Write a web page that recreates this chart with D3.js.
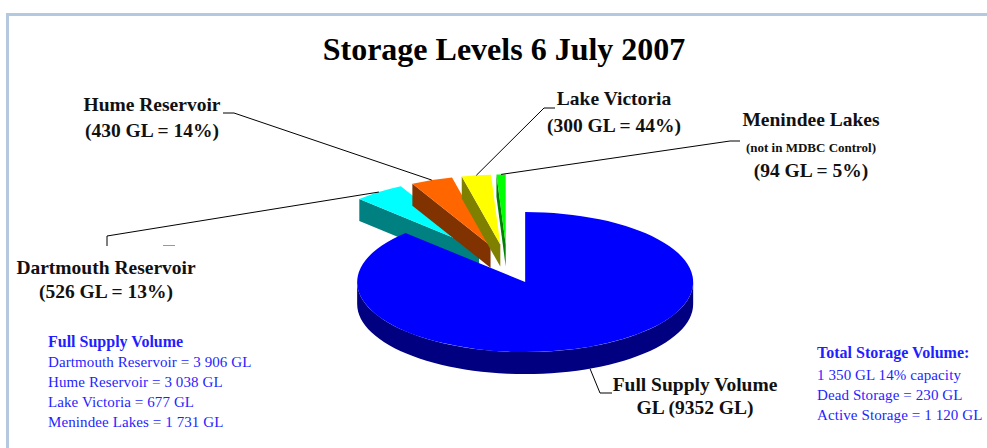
<!DOCTYPE html>
<html>
<head>
<meta charset="utf-8">
<script src="https://cdn.jsdelivr.net/npm/d3@7"></script>
<style>
  body { margin: 0; background: #fff; }
  svg { display: block; }
  text { font-family: "Liberation Serif", "Times New Roman", serif; }
</style>
</head>
<body>
<svg id="chart"></svg>
<script>
document.addEventListener("DOMContentLoaded", function () {
    const width = 987;
    const height = 448;

    // pie slices, clockwise from 12 o'clock
    const sliceNames = ["Full Supply Volume", "Dartmouth Reservoir", "Hume Reservoir", "Lake Victoria", "Menindee Lakes"];
    const sliceValues = [9352, 526, 430, 300, 94];
    const topColors = ["#0000ff", "#00ffff", "#ff6600", "#ffff00", "#00ff00"];
    const sideColors = ["#000080", "#008080", "#803300", "#808000", "#008000"];

    // slice labels (one array of lines per slice)
    const sliceLabels = [
        ["Full Supply Volume", "GL (9352 GL)"],
        ["Dartmouth Reservoir", "(526 GL = 13%)"],
        ["Hume Reservoir", "(430 GL = 14%)"],
        ["Lake Victoria", "(300 GL = 44%)"],
        ["Menindee Lakes", "(not in MDBC Control)", "(94 GL = 5%)"]
    ];

    const fullSupplyTitle = "Full Supply Volume";
    const fullSupplyLines = [
        "Dartmouth Reservoir = 3 906 GL",
        "Hume Reservoir = 3 038 GL",
        "Lake Victoria = 677 GL",
        "Menindee Lakes = 1 731 GL"
    ];
    const totalTitle = "Total Storage Volume:";
    const totalLines = [
        "1 350 GL 14% capacity",
        "Dead Storage = 230 GL",
        "Active Storage = 1 120 GL"
    ];

    const svg = d3.select("#chart")
        .attr("width", width)
        .attr("height", height);

    // frame
    svg.append("path")
        .attr("d", "M7.5,460 V14.5 H1000")
        .attr("fill", "none")
        .attr("stroke", "#b4c8e0")
        .attr("stroke-width", 3);

    // title
    svg.append("text")
        .attr("x", 504)
        .attr("y", 60)
        .attr("text-anchor", "middle")
        .attr("font-size", 32)
        .attr("font-weight", "bold")
        .text("Storage Levels 6 July 2007");

    // 3D pie geometry
    const cx = 507, cy = 264;
    const rx = 168, ry = 70, depth = 22;
    const explode = 0.28;

    const pie = d3.pie().sort(null).value(d => d);
    const arcs = pie(sliceValues);
    const arcGen = d3.arc().innerRadius(0).outerRadius(rx);
    const line = d3.line();

    arcs.forEach((a, i) => {
        const mid = (a.startAngle + a.endAngle) / 2;
        a.index = i;
        a.ox = explode * rx * Math.sin(mid);
        a.oy = -explode * ry * Math.cos(mid);
    });

    function pt(a, ang, r, dz) {
        return [cx + a.ox + r * rx * Math.sin(ang), cy + a.oy - r * ry * Math.cos(ang) + dz];
    }

    function radialFace(a, ang) {
        return line([pt(a, ang, 0, 0), pt(a, ang, 1, 0), pt(a, ang, 1, depth), pt(a, ang, 0, depth)]) + "Z";
    }

    function outerWall(a) {
        const s = Math.max(a.startAngle, Math.PI / 2);
        const e = Math.min(a.endAngle, 3 * Math.PI / 2);
        if (e <= s) return null;
        const n = 60;
        const top = d3.range(n + 1).map(k => pt(a, s + (e - s) * k / n, 1, 0));
        const bottom = d3.range(n + 1).map(k => pt(a, e - (e - s) * k / n, 1, depth));
        return line(top.concat(bottom)) + "Z";
    }

    const pieLayer = svg.append("g");

    // small slices at the back first, the big slice in front last
    const drawOrder = arcs.slice(1).concat([arcs[0]]);

    drawOrder.forEach(a => {
        const g = pieLayer.append("g");
        const side = sideColors[a.index];
        if (Math.sin(a.startAngle) < -1e-6) {
            g.append("path").attr("d", radialFace(a, a.startAngle)).attr("fill", side);
        }
        if (Math.sin(a.endAngle) > 1e-6) {
            g.append("path").attr("d", radialFace(a, a.endAngle)).attr("fill", side);
        }
        const wall = outerWall(a);
        if (wall) g.append("path").attr("d", wall).attr("fill", side);
        g.append("path")
            .attr("d", arcGen(a))
            .attr("transform", `translate(${cx + a.ox},${cy + a.oy}) scale(1,${ry / rx})`)
            .attr("fill", topColors[a.index]);
    });

    // label layout: text centre, baselines, leader elbow points
    const labelLayout = [
        { x: 695, ys: [391, 414], sizes: [19.5, 19.5], elbow: [[600, 393], [612, 393]], anchorDz: depth },
        { x: 106, ys: [274, 298], sizes: [19.5, 19.5], elbow: [[107, 236], [107, 246]], anchorDz: 0 },
        { x: 152, ys: [111, 137], sizes: [19.5, 19.5], elbow: [[234, 113], [223, 113]], anchorDz: 0 },
        { x: 614, ys: [105, 132], sizes: [19.5, 19.5], elbow: [[544, 108], [555, 108]], anchorDz: 0 },
        { x: 811, ys: [126, 152, 177], sizes: [19.5, 13, 19.5], elbow: [[730, 141], [740, 141]], anchorDz: 0 }
    ];

    const leaderLayer = svg.append("g");
    arcs.forEach((a, i) => {
        const L = labelLayout[i];
        const mid = (a.startAngle + a.endAngle) / 2;
        const anchor = pt(a, mid, 1, L.anchorDz);
        leaderLayer.append("path")
            .attr("d", line([anchor].concat(L.elbow)))
            .attr("fill", "none")
            .attr("stroke", "#000")
            .attr("stroke-width", 1);

        sliceLabels[i].forEach((t, k) => {
            svg.append("text")
                .attr("x", L.x)
                .attr("y", L.ys[k])
                .attr("text-anchor", "middle")
                .attr("font-size", L.sizes[k])
                .attr("font-weight", "bold")
                .attr("fill", "#111")
                .text(t);
        });
    });

    // small stray dash under the Dartmouth leader
    svg.append("line")
        .attr("x1", 163).attr("x2", 175)
        .attr("y1", 245.5).attr("y2", 245.5)
        .attr("stroke", "#999")
        .attr("stroke-width", 1);

    // blue notes
    const blue = "#1f1fff";
    function noteBlock(x, y0, title, lines, step) {
        svg.append("text")
            .attr("x", x).attr("y", y0)
            .attr("font-size", 16)
            .attr("font-weight", "bold")
            .attr("fill", blue)
            .text(title);
        lines.forEach((t, k) => {
            svg.append("text")
                .attr("x", x).attr("y", y0 + step[k])
                .attr("font-size", 15)
                .attr("letter-spacing", 0.1)
                .attr("fill", blue)
                .text(t);
        });
    }
    noteBlock(48, 347, fullSupplyTitle, fullSupplyLines, [20, 40, 60, 80]);
    noteBlock(817, 358, totalTitle, totalLines, [22, 42, 62]);
});
</script>
</body>
</html>
